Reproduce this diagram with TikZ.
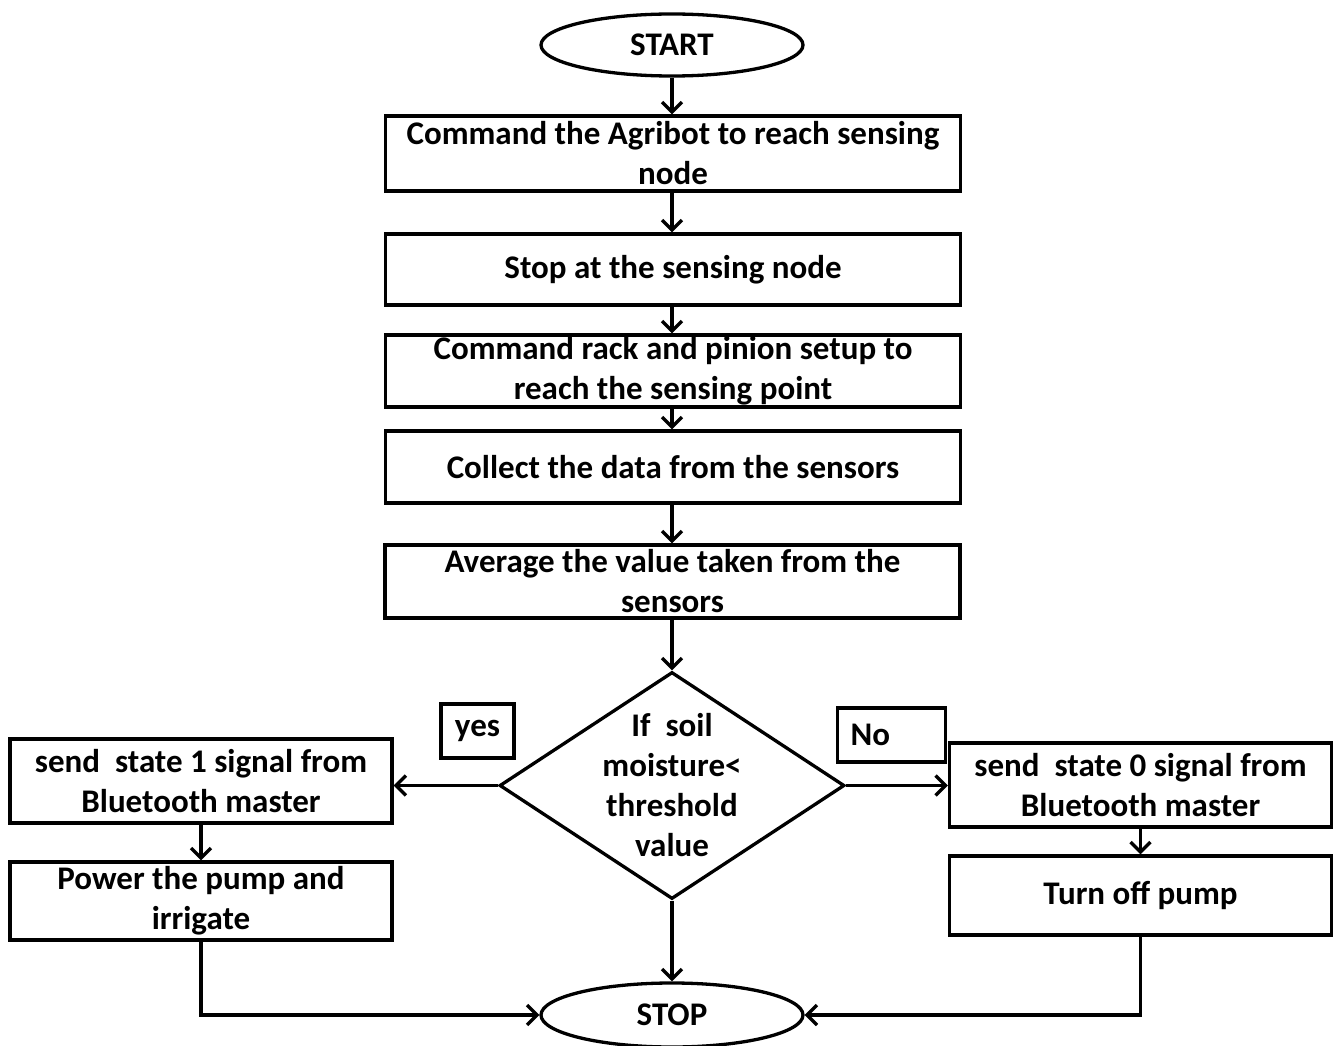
\documentclass[tikz,border=0pt]{standalone}
\usepackage{fontspec}
\setmainfont{Carlito}
\usetikzlibrary{shapes.geometric, arrows.meta}

\begin{document}
\begin{tikzpicture}
        [x=1pt, y=-1pt, line width=3.3pt,
         every node/.style={font=\fontsize{33}{40}\selectfont\bfseries, align=center, inner sep=0},
         proc/.style={draw, rectangle, minimum width=575pt, minimum height=73pt},
         side/.style={draw, rectangle, minimum width=382pt, minimum height=80pt},
         term/.style={draw, ellipse, minimum width=262pt, minimum height=62pt},
         dec/.style={draw, diamond, minimum width=345pt, minimum height=227pt},
         tag/.style={draw, rectangle, minimum height=54pt},
         arr/.style={-{Straight Barb[length=10pt, width=20pt]}}]

        \useasboundingbox (0, 0) rectangle (1336, 1046);

        \node[term] (start) at (672, 45) {START};
        \node[proc, minimum height=75pt] (b1) at (673, 153.5) {Command the Agribot to reach sensing\\ node};
        \node[proc, minimum height=71pt] (b2) at (673, 269.5) {Stop at the sensing node};
        \node[proc, minimum height=72pt] (b3) at (673, 371) {Command rack and pinion setup to\\ reach the sensing point};
        \node[proc, minimum height=72pt] (b4) at (673, 467) {Collect the data from the sensors};
        \node[proc, minimum height=73pt] (b5) at (672.5, 581.5) {Average the value taken from the\\ sensors};
        \node[dec, label=center:{If~ soil\\ moisture<\\ threshold\\ value}] (test) at (672, 785.5) {};
        \node[tag, minimum width=73pt] (yes) at (477.5, 731) {yes};
        \node[tag, text width=82pt, align=left, inner xsep=13pt] (no) at (891.5, 735) {No};
        \node[side, minimum height=84pt] (s1) at (201, 781) {send~ state 1 signal from\\ Bluetooth master};
        \node[side, minimum height=78pt] (pump) at (201, 901) {Power the pump and\\ irrigate};
        \node[side, minimum height=84pt] (s0) at (1140.5, 785) {send~ state 0 signal from\\ Bluetooth master};
        \node[side, minimum height=79pt] (off) at (1140.5, 895.5) {Turn off pump};
        \node[term, minimum height=64pt] (stop) at (672, 1015) {STOP};

        \draw[arr] (start) -- (start |- b1.north);
        \draw[arr] (b1.south -| start) -- (start |- b2.north);
        \draw[arr] (b2.south -| start) -- (start |- b3.north);
        \draw[arr] (b3.south -| start) -- (start |- b4.north);
        \draw[arr] (b4.south -| start) -- (start |- b5.north);
        \draw[arr] (b5.south -| start) -- (test.north);
        \draw[arr] (test.west) -- (test.west -| s1.east);
        \draw[arr] (test.east) -- (test.east -| s0.west);
        \draw[arr] (s1) -- (pump);
        \draw[arr] (s0) -- (off);
        \draw[arr] (test) -- (stop);
        \draw[arr] (pump.south) |- (stop.west);
        \draw[arr] (off.south) |- (stop.east);
      \end{tikzpicture}
\end{document}
